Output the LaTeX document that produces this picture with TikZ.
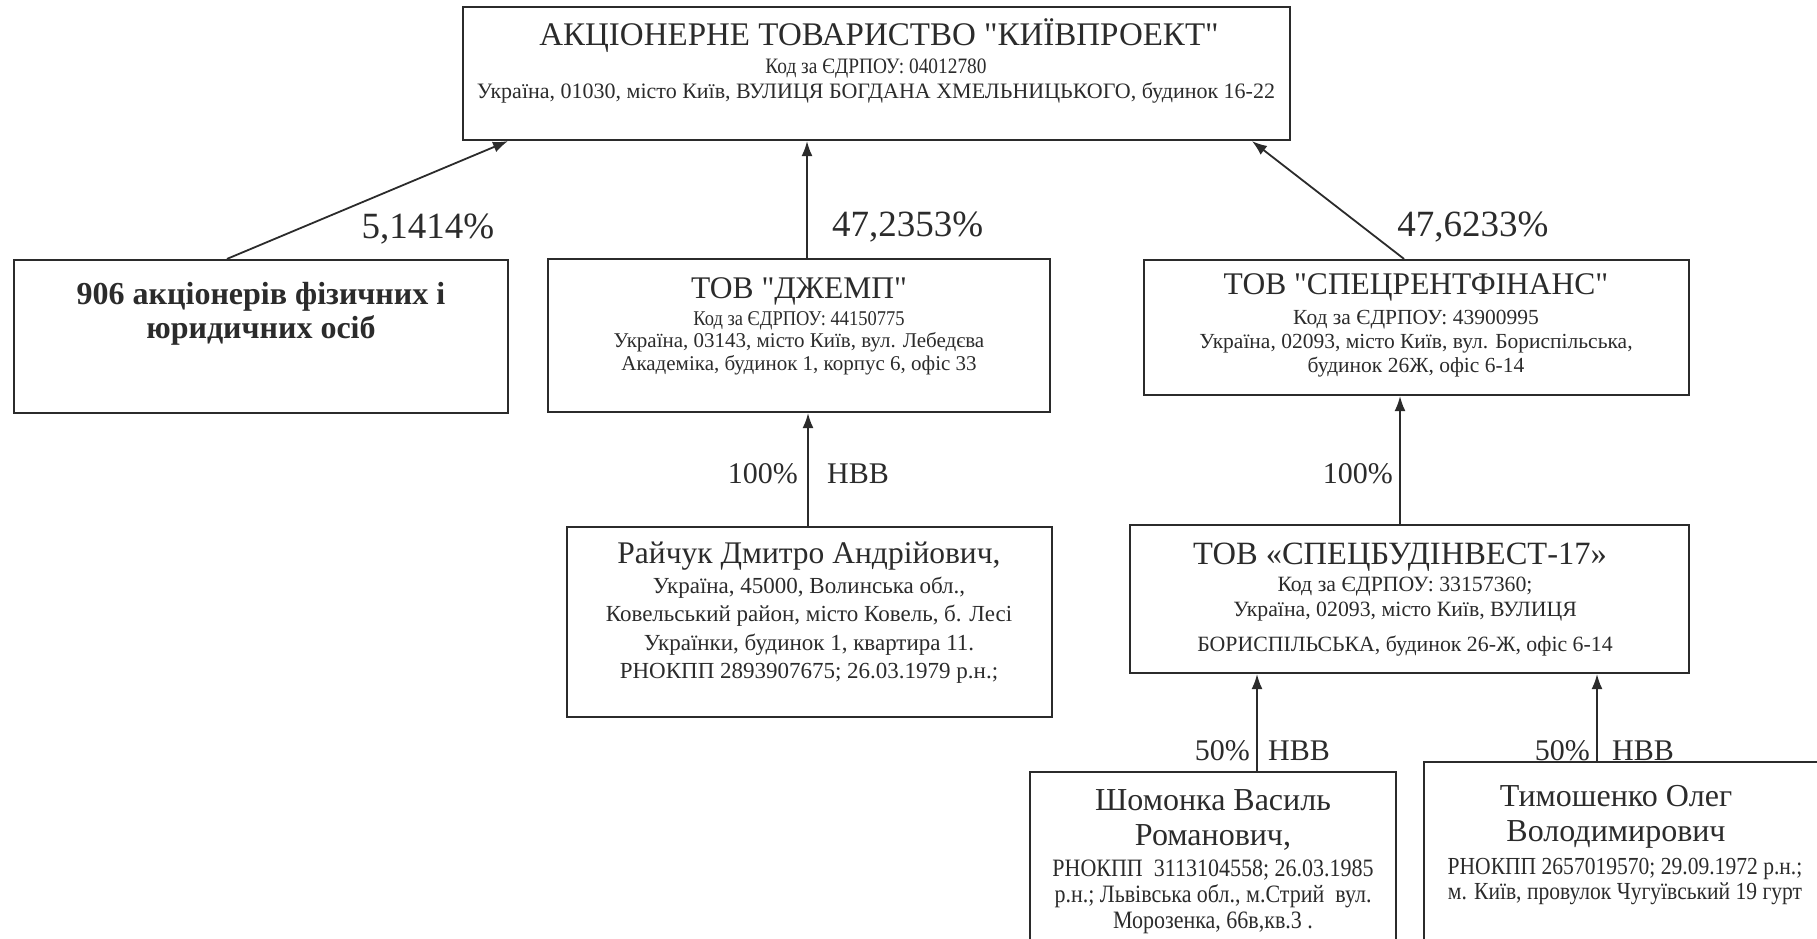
\documentclass[tikz,border=0pt]{standalone}
\usepackage{fontspec}
\setmainfont{Liberation Serif}
\newfontfamily\narrowrm[FakeStretch=0.88]{Liberation Serif}
\newfontfamily\plainrm{Liberation Serif}
\newcommand{\strq}{{\plainrm"}}
\usetikzlibrary{calc,positioning,arrows.meta}
\definecolor{colorink}{HTML}{2B2B2B}
\tikzset{
  boxorg/.style={draw=colorink, line width=2.2pt, inner sep=0pt},
  edgeown/.style={colorink, line width=1.8pt, -{Latex[length=15pt,width=11pt]}},
  ttl/.style={inner sep=0pt, text=colorink, font=\fontsize{31.5}{34}\selectfont},
  det/.style={inner sep=0pt, align=center, text=colorink, font=\fontsize{21}{22.5}\selectfont},
  nam/.style={inner sep=0pt, align=center, text=colorink, font=\fontsize{32}{35}\selectfont},
  pct/.style={inner sep=0pt, text=colorink, font=\fontsize{37}{40}\selectfont},
  pcts/.style={inner sep=0pt, text=colorink, font=\fontsize{30}{34}\selectfont}
}

\begin{document}
\begin{tikzpicture}[x=1pt, y=-1pt]
\useasboundingbox (0,0) rectangle (1817,938);
\clip (0,0) rectangle (1817,938);
% boxes
\node[boxorg, minimum width=827pt, minimum height=133pt] (kp) at (876.5,73.5) {};
\node[boxorg, minimum width=494pt, minimum height=153pt] (fiz) at (261,336.5) {};
\node[boxorg, minimum width=502pt, minimum height=153pt] (dzh) at (799,335.5) {};
\node[boxorg, minimum width=545pt, minimum height=135pt] (srf) at (1416.5,327.5) {};
\node[boxorg, minimum width=485pt, minimum height=190pt] (raj) at (809.5,622) {};
\node[boxorg, minimum width=559pt, minimum height=148pt] (sbi) at (1409.5,599) {};
\node[boxorg, minimum width=366pt, minimum height=190pt] (shom) at (1213,867) {};
\node[boxorg, minimum width=406pt, minimum height=200pt] (tym) at (1627,862) {};
% texts
\node[ttl, font=\fontsize{33}{36}\selectfont] (kpT) at (879,36) {АКЦІОНЕРНЕ ТОВАРИСТВО \strq КИЇВПРОЕКТ\strq};
\node[det, font=\fontsize{22}{25}\selectfont] (kpD) at (876,81)
  {{\narrowrm Код за ЄДРПОУ: 04012780}\\Україна, 01030, місто Київ, ВУЛИЦЯ БОГДАНА ХМЕЛЬНИЦЬКОГО, будинок 16-22};
\node[det, font=\bfseries\fontsize{32}{34}\selectfont] (fizT) at (261,314)
  {906 акціонерів фізичних і\\юридичних осіб};
\node[ttl] (dzhT) at (799,291) {ТОВ \strq ДЖЕМП\strq};
\node[det] (dzhD) at (799,343)
  {{\narrowrm Код за ЄДРПОУ: 44150775}\\Україна, 03143, місто Київ, вул. Лебедєва\\Академіка, будинок 1, корпус 6, офіс 33};
\node[ttl] (srfT) at (1416,287) {ТОВ \strq СПЕЦРЕНТФІНАНС\strq};
\node[det, font=\fontsize{21.5}{24}\selectfont] (srfD) at (1416,344)
  {Код за ЄДРПОУ: 43900995\\Україна, 02093, місто Київ, вул. Бориспільська,\\будинок 26Ж, офіс 6-14};
\node[ttl] (rajT) at (809,556) {Райчук Дмитро Андрійович,};
\node[det, font=\fontsize{23}{28.5}\selectfont] (rajD) at (809,630)
  {Україна, 45000, Волинська обл.,\\Ковельський район, місто Ковель, б. Лесі\\Українки, будинок 1, квартира 11.\\РНОКПП 2893907675; 26.03.1979 р.н.;};
\node[ttl, font=\fontsize{32.5}{34}\selectfont] (sbiT) at (1400,557) {ТОВ «СПЕЦБУДІНВЕСТ-17»};
\node[det, font=\fontsize{21.8}{25}\selectfont] (sbiD) at (1405,617)
  {Код за ЄДРПОУ: 33157360;\\Україна, 02093, місто Київ, ВУЛИЦЯ\\[10pt]БОРИСПІЛЬСЬКА, будинок 26-Ж, офіс 6-14};
\node[nam] (shomT) at (1213,820) {Шомонка Василь\\Романович,};
\node[det, font=\narrowrm\fontsize{25}{26}\selectfont] (shomD) at (1213,897)
  {РНОКПП\ \ 3113104558; 26.03.1985\\р.н.; Львівська обл., м.Стрий\ \ вул.\\Морозенка, 66в,кв.3 .};
\node[nam] (tymT) at (1616,817) {Тимошенко Олег\\Володимирович};
\node[det, font=\narrowrm\fontsize{24.5}{25}\selectfont] (tymD) at (1625,881)
  {РНОКПП 2657019570; 29.09.1972 р.н.;\\м. Київ, провулок Чугуївський 19 гурт};
% ownership
\draw[edgeown] ([xshift=-34pt]fiz.north) -- ([xshift=-368.5pt]kp.south);
\draw[edgeown] ([xshift=8pt]dzh.north) -- ([xshift=8pt]dzh.north |- kp.south);
\draw[edgeown] ([xshift=-12.5pt]srf.north) -- ([xshift=375.5pt]kp.south);
\draw[edgeown] ([xshift=-1.5pt]raj.north) -- ([xshift=-1.5pt]raj.north |- dzh.south);
\draw[edgeown] ([xshift=-9.5pt]sbi.north) -- ([xshift=-9.5pt]sbi.north |- srf.south);
\draw[edgeown] ([xshift=44pt]shom.north) -- ([xshift=44pt]shom.north |- sbi.south);
\draw[edgeown] ([xshift=-30pt]tym.north) -- ([xshift=-30pt]tym.north |- sbi.south);
% shares
\node[pct] (p1) at (428,229) {5,1414\%};
\node[pct, anchor=west] (p2) at (832,227) {47,2353\%};
\node[pct] (p3) at (1473,227) {47,6233\%};
\node[pcts, anchor=east] (p4) at (798,474) {100\%};
\node[pcts, anchor=west] (h4) at (827,474) {НВВ};
\node[pcts, anchor=east] (p5) at (1393,474) {100\%};
\node[pcts, anchor=east] (p6) at (1250,751) {50\%};
\node[pcts, anchor=west] (h6) at (1268,751) {НВВ};
\node[pcts, anchor=east] (p7) at (1590,751) {50\%};
\node[pcts, anchor=west] (h7) at (1612,751) {НВВ};
\end{tikzpicture}
\end{document}
